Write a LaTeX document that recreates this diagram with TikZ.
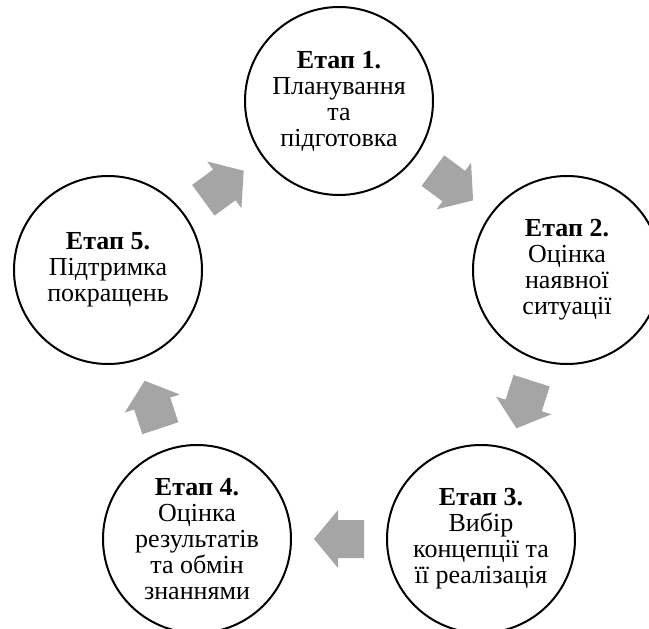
\documentclass[tikz,border=0pt]{standalone}
\usepackage{fontspec}
\setmainfont{Liberation Serif}
\usetikzlibrary{calc}
\definecolor{arrowgray}{HTML}{A5A5A5}
\tikzset{
  stage/.style={circle, draw=black, line width=2pt, fill=white, minimum size=188pt, inner sep=0pt, align=center, font=\fontsize{26}{26}\selectfont},
  flowarrow/.pic={\fill[arrowgray] (-25,-19) -- (1,-19) -- (1,-29) -- (25,0) -- (1,29) -- (1,19) -- (-25,19) -- cycle;}
}
\newcommand\cyclearrow[2]{%
  \path let \p1 = ($(#2)-(#1)$), \n1 = {atan2(\y1,\x1)} in
    ($(#1)!0.5!(#2)$) pic[rotate=\n1] {flowarrow};}
\begin{document}
\begin{tikzpicture}[x=1pt,y=-1pt]
\useasboundingbox (0,0) rectangle (649,629);
\node[stage] (s1) at (339,101) {\textbf{Етап 1.}\\Планування\\та\\підготовка};
\node[stage] (s2) at (567,270) {\textbf{Етап 2.}\\Оцінка\\наявної\\ситуації};
\node[stage] (s3) at (481,539) {\textbf{Етап 3.}\\Вибір\\концепції та\\її реалізація};
\node[stage] (s4) at (197,539) {\textbf{Етап 4.}\\Оцінка\\результатів\\та обмін\\знаннями};
\node[stage] (s5) at (108,270) {\textbf{Етап 5.}\\Підтримка\\покращень};
\cyclearrow{s1}{s2}
\cyclearrow{s2}{s3}
\cyclearrow{s3}{s4}
\cyclearrow{s4}{s5}
\cyclearrow{s5}{s1}
\end{tikzpicture}
\end{document}
